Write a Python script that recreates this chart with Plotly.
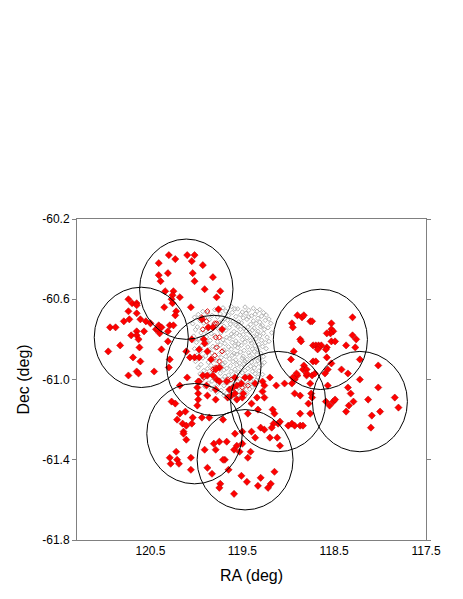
import numpy as np
import plotly.graph_objects as go

# field centres (deg) and field radius
field_ra = [120.11, 120.60, 119.81, 120.02, 119.47, 119.11, 118.65, 118.22]
field_dec = [-60.55, -60.79, -60.93, -61.27, -61.40, -61.11, -60.80, -61.11]
field_radius = 0.25

# selected targets (filled red diamonds)
red_ra = [120.30, 120.10, 120.02, 120.23, 120.41, 120.05, 119.93, 120.31, 120.41, 120.04,
          120.39, 120.02, 119.82, 119.91, 119.74, 120.34, 120.25, 120.26, 120.27, 119.78,
          120.18, 120.26, 120.35, 120.22, 120.23, 120.06, 120.74, 120.70, 120.65, 120.65,
          120.74, 120.65, 120.79, 120.73, 120.61, 120.55, 120.50, 120.94, 120.88, 120.41,
          120.38, 120.44, 120.29, 120.25, 120.57, 120.65, 120.71, 120.65, 120.63, 120.42,
          120.40, 120.31, 120.83, 120.62, 120.38, 120.96, 120.69, 120.61, 120.74, 120.65,
          120.63, 120.46, 120.30, 120.31, 120.11, 120.05, 120.07, 120.02, 120.29, 120.10,
          120.18, 119.99, 119.97, 120.27, 120.23, 120.18, 120.12, 120.04, 119.99, 120.21,
          120.15, 120.11, 120.05, 120.14, 120.14, 120.11, 119.98, 119.93, 119.88, 119.82,
          119.78, 119.75, 119.89, 119.79, 119.79, 119.88, 119.98, 119.98, 119.94, 119.86,
          119.71, 119.81, 119.75, 119.67, 119.91, 119.79, 119.59, 119.58, 119.69, 119.71,
          119.88, 119.83, 119.65, 119.74, 119.75, 119.59, 120.22, 120.29, 120.28, 120.21,
          120.19, 120.06, 120.06, 119.56, 119.53, 119.50, 119.41, 119.44, 119.51, 119.45,
          119.30, 119.33, 119.19, 119.22, 119.15, 119.40, 119.36, 119.20, 119.12, 119.09,
          119.66, 119.62, 119.64, 119.58, 119.56, 119.51, 119.47, 119.42, 119.36, 119.28,
          119.26, 119.20, 119.13, 119.04, 118.96, 118.93, 118.90, 118.80, 118.76, 118.74,
          119.56, 119.50, 119.49, 119.40, 119.34, 119.26, 119.28, 119.33, 119.44, 119.15,
          119.17, 119.09, 119.11, 119.16, 119.18, 119.00, 118.96, 118.93, 118.87, 118.84,
          118.87, 118.76, 118.93, 118.87, 118.78, 119.50, 119.30, 119.26, 118.90, 118.85,
          118.83, 118.96, 118.95, 118.76, 118.74, 118.53, 118.30, 118.53, 118.51, 118.54,
          118.58, 118.30, 118.26, 118.87, 118.86, 118.53, 118.49, 118.37, 118.27, 118.73,
          118.70, 118.67, 118.64, 118.67, 118.68, 118.58, 118.59, 118.94, 118.97, 118.73,
          118.70, 118.58, 118.53, 118.22, 118.02, 118.83, 118.84, 118.80, 118.80, 118.91,
          118.95, 118.71, 118.57, 118.60, 118.42, 118.35, 118.22, 118.35, 118.57, 118.02,
          118.32, 118.75, 118.74, 117.84, 118.59, 118.55, 118.51, 118.49, 118.34, 118.29,
          118.37, 118.13, 117.80, 118.00, 118.09, 118.10, 119.76, 119.94, 119.87, 119.82,
          119.72, 119.92, 119.91, 119.97, 119.88, 119.97, 119.84, 119.75, 119.79, 119.67,
          119.58, 119.60]
red_dec = [-60.38, -60.38, -60.38, -60.40, -60.42, -60.41, -60.43, -60.47, -60.48, -60.47,
           -60.51, -60.51, -60.49, -60.55, -60.56, -60.56, -60.56, -60.58, -60.60, -60.59,
           -60.59, -60.62, -60.64, -60.66, -60.68, -60.64, -60.60, -60.62, -60.62, -60.63,
           -60.66, -60.67, -60.71, -60.70, -60.70, -60.71, -60.72, -60.74, -60.74, -60.73,
           -60.74, -60.75, -60.73, -60.73, -60.76, -60.76, -60.78, -60.78, -60.80, -60.75,
           -60.77, -60.76, -60.83, -60.84, -60.85, -60.86, -60.89, -60.91, -60.98, -60.96,
           -60.97, -60.96, -60.94, -60.81, -60.86, -60.80, -60.89, -60.89, -60.90, -60.99,
           -61.03, -61.04, -61.01, -61.11, -61.12, -61.17, -61.16, -61.19, -61.13, -61.20,
           -61.22, -61.23, -61.22, -61.26, -61.27, -61.30, -61.01, -60.98, -60.98, -60.98,
           -61.00, -61.01, -61.03, -61.05, -61.10, -61.08, -61.07, -61.10, -61.19, -61.19,
           -61.20, -61.32, -61.31, -61.31, -61.35, -61.35, -61.35, -61.27, -61.40, -61.40,
           -61.44, -61.47, -61.45, -61.52, -61.54, -61.57, -61.36, -61.39, -61.42, -61.40,
           -61.42, -61.39, -61.45, -61.33, -61.36, -61.32, -61.36, -61.39, -61.48, -61.51,
           -61.49, -61.53, -61.52, -61.54, -61.46, -61.26, -61.29, -61.29, -61.29, -61.33,
           -61.09, -61.08, -61.05, -61.07, -61.03, -61.02, -60.99, -60.99, -61.02, -61.01,
           -61.03, -60.99, -61.03, -61.02, -61.02, -61.00, -60.98, -60.98, -61.02, -60.98,
           -61.10, -61.09, -61.07, -61.12, -61.09, -61.09, -61.06, -61.15, -61.17, -61.17,
           -61.15, -61.21, -61.22, -61.22, -61.24, -61.23, -61.22, -61.23, -61.23, -61.23,
           -61.17, -61.17, -61.07, -61.08, -61.12, -61.26, -61.24, -61.25, -60.68, -60.69,
           -60.68, -60.72, -60.74, -60.71, -60.71, -60.72, -60.69, -60.75, -60.76, -60.77,
           -60.77, -60.78, -60.80, -60.80, -60.81, -60.81, -60.81, -60.83, -60.84, -60.83,
           -60.83, -60.83, -60.83, -60.84, -60.85, -60.84, -60.85, -60.86, -60.90, -60.91,
           -60.91, -60.89, -60.92, -60.90, -60.93, -60.93, -60.95, -60.95, -60.97, -60.97,
           -60.99, -60.97, -60.95, -60.97, -60.95, -60.97, -61.00, -61.04, -61.03, -61.04,
           -61.07, -61.07, -61.09, -61.09, -61.11, -61.13, -61.11, -61.10, -61.13, -61.11,
           -61.16, -61.10, -61.14, -61.16, -61.18, -61.24, -60.65, -60.70, -60.74, -60.74,
           -60.75, -60.80, -60.82, -60.85, -60.86, -60.89, -60.90, -60.94, -60.95, -61.01,
           -60.99, -61.04]

# selected targets inside the dense field (open red diamonds)
open_ra = [119.88, 119.94, 119.89, 119.80, 119.78, 119.75, 119.79, 119.93, 119.78, 119.72,
           119.80, 119.75, 119.74, 119.79, 119.82, 119.89, 119.92, 119.66, 119.62, 119.50,
           119.44]
open_dec = [-60.66, -60.69, -60.71, -60.72, -60.72, -60.79, -60.79, -60.75, -60.84, -60.86,
            -60.88, -60.91, -60.94, -60.94, -60.95, -60.98, -60.99, -61.00, -61.00, -61.04,
            -61.03]

# all other candidates (small grey open diamonds), one list pair per strip in Dec
grey_rows = [
    ([119.71, 119.62, 119.55, 119.47, 119.38, 119.31],
     [-60.643, -60.636, -60.648, -60.639, -60.645, -60.652]),
    ([119.93, 119.80, 119.68, 119.58, 119.50, 119.43, 119.34, 119.27],
     [-60.661, -60.652, -60.659, -60.648, -60.664, -60.655, -60.660, -60.667]),
    ([119.98, 119.88, 119.74, 119.65, 119.61, 119.52, 119.46, 119.40, 119.36, 119.24],
     [-60.676, -60.668, -60.673, -60.681, -60.666, -60.677, -60.670, -60.683, -60.674, -60.679]),
    ([120.02, 119.91, 119.83, 119.77, 119.69, 119.57, 119.49, 119.43, 119.33, 119.29, 119.21],
     [-60.690, -60.694, -60.681, -60.689, -60.697, -60.686, -60.693, -60.688, -60.695, -60.684, -60.699]),
    ([119.96, 119.86, 119.72, 119.66, 119.60, 119.54, 119.45, 119.38, 119.31, 119.25],
     [-60.707, -60.702, -60.711, -60.704, -60.709, -60.713, -60.700, -60.708, -60.714, -60.705]),
    ([120.04, 119.92, 119.81, 119.75, 119.63, 119.57, 119.51, 119.41, 119.35, 119.28, 119.19],
     [-60.722, -60.719, -60.726, -60.717, -60.724, -60.729, -60.718, -60.725, -60.721, -60.731, -60.720]),
    ([119.99, 119.87, 119.70, 119.64, 119.55, 119.48, 119.44, 119.37, 119.30, 119.22],
     [-60.738, -60.743, -60.735, -60.741, -60.736, -60.746, -60.739, -60.744, -60.737, -60.742]),
    ([120.01, 119.90, 119.76, 119.68, 119.59, 119.52, 119.46, 119.39, 119.33, 119.26],
     [-60.752, -60.757, -60.749, -60.755, -60.761, -60.750, -60.758, -60.754, -60.760, -60.751]),
    ([119.95, 119.84, 119.73, 119.62, 119.56, 119.49, 119.42, 119.34, 119.27, 119.18],
     [-60.768, -60.771, -60.766, -60.774, -60.769, -60.776, -60.765, -60.773, -60.770, -60.767]),
    ([120.03, 119.89, 119.80, 119.67, 119.60, 119.53, 119.45, 119.38, 119.31, 119.23],
     [-60.784, -60.788, -60.781, -60.790, -60.785, -60.779, -60.792, -60.786, -60.783, -60.789]),
    ([119.97, 119.85, 119.71, 119.64, 119.57, 119.50, 119.41, 119.35, 119.29, 119.21],
     [-60.799, -60.805, -60.802, -60.796, -60.808, -60.801, -60.806, -60.798, -60.804, -60.810]),
    ([120.00, 119.88, 119.77, 119.69, 119.61, 119.54, 119.47, 119.40, 119.32, 119.25],
     [-60.815, -60.819, -60.812, -60.821, -60.816, -60.823, -60.814, -60.818, -60.825, -60.817]),
    ([119.94, 119.82, 119.74, 119.65, 119.58, 119.51, 119.44, 119.36, 119.28],
     [-60.831, -60.835, -60.828, -60.837, -60.833, -60.829, -60.838, -60.832, -60.836]),
    ([120.02, 119.86, 119.79, 119.70, 119.62, 119.55, 119.48, 119.39, 119.33, 119.24],
     [-60.847, -60.851, -60.844, -60.853, -60.849, -60.842, -60.855, -60.848, -60.852, -60.846]),
    ([119.96, 119.83, 119.72, 119.66, 119.59, 119.52, 119.43, 119.37, 119.30],
     [-60.862, -60.868, -60.859, -60.865, -60.870, -60.863, -60.867, -60.861, -60.869]),
    ([119.99, 119.90, 119.76, 119.68, 119.61, 119.56, 119.49, 119.42, 119.34, 119.27],
     [-60.878, -60.883, -60.876, -60.885, -60.879, -60.874, -60.884, -60.880, -60.877, -60.886]),
    ([119.93, 119.81, 119.73, 119.64, 119.57, 119.50, 119.45, 119.38, 119.31],
     [-60.893, -60.899, -60.891, -60.897, -60.902, -60.894, -60.900, -60.895, -60.898]),
    ([120.01, 119.87, 119.78, 119.69, 119.60, 119.53, 119.47, 119.40, 119.33, 119.26],
     [-60.910, -60.914, -60.907, -60.916, -60.911, -60.918, -60.909, -60.913, -60.906, -60.915]),
    ([119.95, 119.84, 119.71, 119.63, 119.56, 119.48, 119.41, 119.35, 119.29],
     [-60.925, -60.930, -60.923, -60.932, -60.927, -60.921, -60.934, -60.926, -60.929]),
    ([119.98, 119.88, 119.77, 119.67, 119.58, 119.51, 119.44, 119.37],
     [-60.941, -60.946, -60.938, -60.944, -60.949, -60.940, -60.945, -60.942]),
    ([119.92, 119.82, 119.70, 119.62, 119.54, 119.47, 119.39, 119.32],
     [-60.956, -60.961, -60.953, -60.959, -60.964, -60.955, -60.960, -60.957]),
    ([119.96, 119.86, 119.74, 119.65, 119.57, 119.50, 119.43, 119.36, 119.28],
     [-60.972, -60.976, -60.969, -60.978, -60.973, -60.967, -60.979, -60.971, -60.975]),
    ([119.90, 119.79, 119.69, 119.60, 119.53, 119.46, 119.40, 119.33],
     [-60.987, -60.992, -60.984, -60.990, -60.995, -60.986, -60.991, -60.988]),
    ([119.94, 119.83, 119.72, 119.63, 119.55, 119.49, 119.41, 119.35],
     [-61.003, -61.008, -61.000, -61.006, -61.011, -61.002, -61.007, -61.004]),
    ([119.87, 119.76, 119.66, 119.58, 119.52, 119.44, 119.38],
     [-61.018, -61.023, -61.016, -61.021, -61.026, -61.019, -61.024]),
    ([119.91, 119.80, 119.70, 119.61, 119.54, 119.47, 119.39],
     [-61.034, -61.038, -61.031, -61.036, -61.041, -61.033, -61.037]),
    ([119.84, 119.73, 119.64, 119.56, 119.49, 119.42],
     [-61.049, -61.054, -61.046, -61.051, -61.056, -61.048]),
    ([119.78, 119.67, 119.59, 119.51, 119.45],
     [-61.064, -61.068, -61.061, -61.066, -61.070]),
    ([119.70, 119.62, 119.55, 119.47],
     [-61.079, -61.083, -61.076, -61.081]),
    ([119.66, 119.57],
     [-61.092, -61.088]),
]
grey_ra = [ra for ras, decs in grey_rows for ra in ras]
grey_dec = [dec for ras, decs in grey_rows for dec in decs]

xticks = [120.5, 119.5, 118.5, 117.5]
yticks = [-60.2, -60.6, -61.0, -61.4, -61.8]

fig = go.Figure()
fig.add_trace(go.Scatter(x=grey_ra, y=grey_dec, mode='markers',
                         marker=dict(symbol='diamond-open', size=3.5, color='#aaaaaa',
                                     line=dict(width=0.9))))
fig.add_trace(go.Scatter(x=open_ra, y=open_dec, mode='markers',
                         marker=dict(symbol='diamond-open', size=4, color='#e00000',
                                     line=dict(width=1))))
fig.add_trace(go.Scatter(x=red_ra, y=red_dec, mode='markers',
                         marker=dict(symbol='diamond', size=5.5, color='#ff0000',
                                     line=dict(width=0.5, color='#b00000'))))

# field of view circles, RA half width stretched by 1/cos(dec)
for ra, dec in zip(field_ra, field_dec):
    half = field_radius / np.cos(np.radians(dec))
    fig.add_shape(type='circle', xref='x', yref='y',
                  x0=ra - half, x1=ra + half,
                  y0=dec - field_radius, y1=dec + field_radius,
                  line=dict(color='black', width=1))

font_family = 'Liberation Sans, Arial'
axis_font = dict(family=font_family, size=12, color='black')
title_font = dict(family=font_family, size=16, color='black')
fig.update_xaxes(range=[121.3, 117.5], tickvals=xticks, ticktext=[f'{v:.1f}' for v in xticks],
                 showgrid=False, zeroline=False, showline=True, linecolor='#808080',
                 linewidth=1, mirror=True, ticks='', tickfont=axis_font,
                 title=dict(text='RA (deg)', font=title_font, standoff=12))
fig.update_yaxes(range=[-61.8, -60.2], tickvals=yticks, ticktext=[f'{v:.1f}' for v in yticks],
                 showgrid=False, zeroline=False, showline=True, linecolor='#808080',
                 linewidth=1, mirror='ticks', ticks='outside', ticklen=4, tickcolor='#808080',
                 tickfont=axis_font,
                 title=dict(text='Dec (deg)', font=title_font, standoff=8))
# page adds an 8px body margin, so the figure is 8px smaller each way
fig.update_layout(width=455, height=591, showlegend=False,
                  margin=dict(l=69, r=37, t=211, b=59, autoexpand=False),
                  paper_bgcolor='white', plot_bgcolor='white',
                  font=dict(family=font_family, color='black'))

fig.write_html("out.html")
